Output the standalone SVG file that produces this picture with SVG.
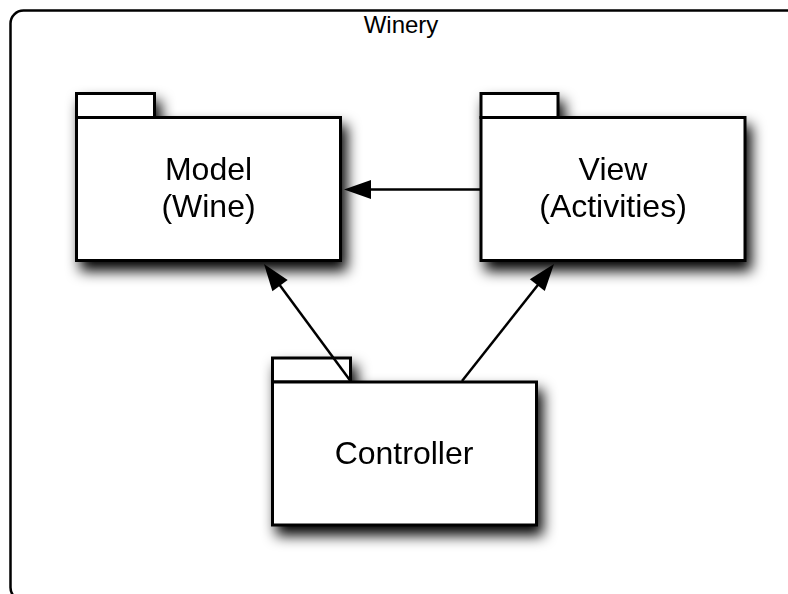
<svg xmlns="http://www.w3.org/2000/svg" width="788" height="594" viewBox="0 0 788 594">
  <style>
    .frame { fill: #ffffff; stroke: #000000; stroke-width: 2.5; }
    .pkg { fill: #ffffff; stroke: #000000; stroke-width: 3; }
    .label { font-family: "Liberation Sans", Arial, sans-serif; fill: #000000; text-anchor: middle; }
    .big { font-size: 32px; }
    .title { font-size: 24px; }
    .conn { stroke: #000000; stroke-width: 2.5; fill: none; }
  </style>
  <defs>
    <filter id="shadow" x="-25%" y="-25%" width="160%" height="160%">
      <feGaussianBlur in="SourceAlpha" stdDeviation="7"/>
      <feOffset dx="5" dy="9" result="blur"/>
      <feComponentTransfer><feFuncA type="linear" slope="1"/></feComponentTransfer>
      <feMerge><feMergeNode/><feMergeNode in="SourceGraphic"/></feMerge>
    </filter>
    <path id="arrowhead" d="M0,0 L-27,-9.5 L-27,9.5 Z" fill="#000000"/>
  </defs>

  <rect width="788" height="594" fill="#ffffff"/>

  <!-- Winery container -->
  <g id="winery">
    <rect class="frame" x="10.5" y="10.5" width="800" height="590" rx="13" ry="13"/>
    <text class="label title" x="401" y="33">Winery</text>
  </g>

  <!-- Model package -->
  <g id="model" filter="url(#shadow)">
    <rect class="pkg" x="76.5" y="93.5" width="78" height="24"/>
    <rect class="pkg" x="76.5" y="117.5" width="264" height="143"/>
    <text class="label big" x="208.5" y="180">Model</text>
    <text class="label big" x="208.5" y="217">(Wine)</text>
  </g>

  <!-- View package -->
  <g id="view" filter="url(#shadow)">
    <rect class="pkg" x="481" y="93.5" width="77" height="24"/>
    <rect class="pkg" x="481" y="117.5" width="264" height="143"/>
    <text class="label big" x="613" y="180">View</text>
    <text class="label big" x="613" y="217">(Activities)</text>
  </g>

  <!-- Controller package -->
  <g id="controller" filter="url(#shadow)">
    <rect class="pkg" x="272.5" y="358" width="78" height="24"/>
    <rect class="pkg" x="272.5" y="382" width="264" height="143"/>
    <text class="label big" x="404" y="464">Controller</text>
  </g>

  <!-- Dependencies: shaft plus a filled head rotated along the line -->
  <g id="connectors">
    <line class="conn" x1="481" y1="189.5" x2="360" y2="189.5"/>
    <use href="#arrowhead" transform="translate(344 189.5) rotate(180)"/>
    <line class="conn" x1="350.5" y1="381" x2="273" y2="276"/>
    <use href="#arrowhead" transform="translate(264 264) rotate(233.6)"/>
    <line class="conn" x1="462" y1="381" x2="545" y2="276"/>
    <use href="#arrowhead" transform="translate(554 264) rotate(-51.8)"/>
  </g>
</svg>
